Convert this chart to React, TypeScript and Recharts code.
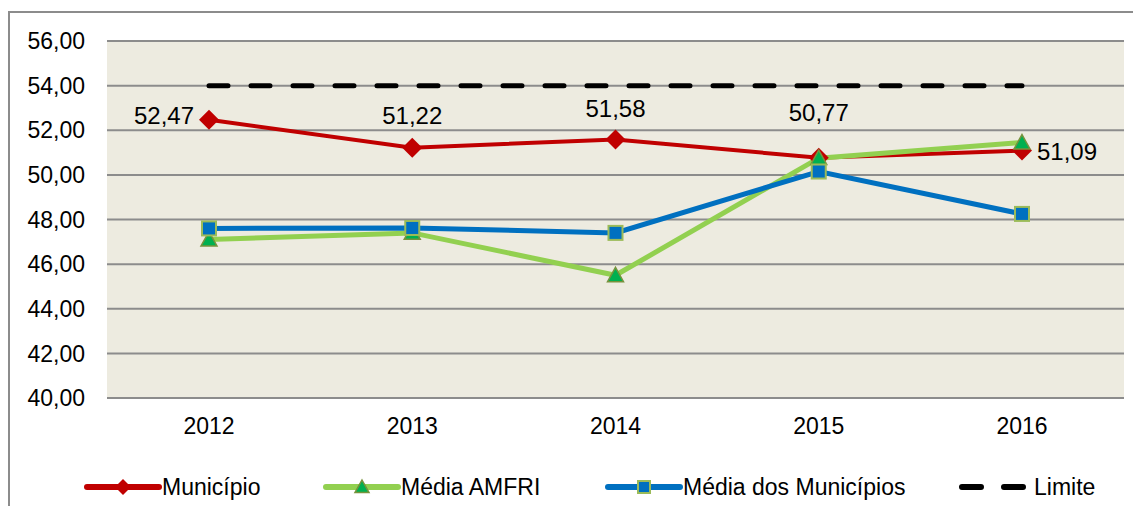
import React from "react";
import { CartesianGrid, Line, LineChart, XAxis, YAxis } from "recharts";

const years = ["2012", "2013", "2014", "2015", "2016"];
const municipio = [52.47, 51.22, 51.58, 50.77, 51.09];
const mediaAmfri = [47.1, 47.4, 45.5, 50.75, 51.45];
const mediaMunicipios = [47.6, 47.62, 47.4, 50.15, 48.25];
const limite = [54, 54, 54, 54, 54];
const yTicks = [40, 42, 44, 46, 48, 50, 52, 54, 56];

const data = years.map((year, i) => ({
  year,
  municipio: municipio[i],
  mediaAmfri: mediaAmfri[i],
  mediaMunicipios: mediaMunicipios[i],
  limite: limite[i],
}));

const FONT = '"Liberation Sans", Arial, sans-serif';
const RED = "#C00000";
const GREEN = "#92D050";
const DARK_GREEN = "#00B050";
const BLUE = "#0070C0";
const BG = "#EDEBE0";
const GRID = "#8c8c8c";

const fmt = (v: number) => v.toFixed(2).replace(".", ",");

// where each Município label sits relative to its point
const labelPlacement = [
  { anchor: "end", dx: -15, dy: 4 },
  { anchor: "middle", dx: 0, dy: -24 },
  { anchor: "middle", dx: 0, dy: -23 },
  { anchor: "middle", dx: 0, dy: -37 },
  { anchor: "start", dx: 15, dy: 9 },
];

function Diamond({ cx, cy, size = 10 }: any) {
  if (cx == null || cy == null) return null;
  return (
    <polygon
      points={`${cx},${cy - size} ${cx + size},${cy} ${cx},${cy + size} ${cx - size},${cy}`}
      fill={RED}
    />
  );
}

function Triangle({ cx, cy, size = 8 }: any) {
  if (cx == null || cy == null) return null;
  return (
    <polygon
      points={`${cx},${cy - size} ${cx + size},${cy + size * 0.8} ${cx - size},${cy + size * 0.8}`}
      fill={DARK_GREEN}
      stroke="#77933C"
      strokeWidth={1.5}
    />
  );
}

function Square({ cx, cy, size = 7 }: any) {
  if (cx == null || cy == null) return null;
  return (
    <rect x={cx - size} y={cy - size} width={size * 2} height={size * 2} fill={BLUE} stroke="#9BBB59" strokeWidth={2} />
  );
}

function MunicipioLabel(props: any) {
  const { x, y, value, index } = props;
  const p = labelPlacement[index] ?? labelPlacement[1];
  return (
    <text x={x + p.dx} y={y + p.dy} textAnchor={p.anchor} fontSize={24} fontFamily={FONT} fill="#000">
      {fmt(value)}
    </text>
  );
}

const legendItems = [
  { name: "Município", color: RED, x: 79, marker: "diamond" },
  { name: "Média AMFRI", color: GREEN, x: 318, marker: "triangle" },
  { name: "Média dos Municípios", color: BLUE, x: 600, marker: "square" },
  { name: "Limite", color: "#000", x: 951, marker: "dash" },
];

function ChartLegend() {
  const y = 479;
  return (
    <svg width={1133} height={30} style={{ position: "absolute", left: 0, top: y - 15 }}>
      {legendItems.map((item) => {
        const x1 = item.x;
        const x2 = item.x + 72;
        const mid = (x1 + x2) / 2;
        return (
          <g key={item.name}>
            {item.marker === "dash" ? (
              <line x1={x1 + 3} y1={15} x2={x2 - 3} y2={15} stroke="#000" strokeWidth={6} strokeDasharray="19 23" strokeLinecap="round" />
            ) : (
              <line x1={x1} y1={15} x2={x2} y2={15} stroke={item.color} strokeWidth={6} strokeLinecap="round" />
            )}
            {item.marker === "diamond" && <Diamond cx={mid} cy={15} size={8} />}
            {item.marker === "triangle" && <Triangle cx={mid} cy={15} size={7} />}
            {item.marker === "square" && <Square cx={mid} cy={15} size={6} />}
            <text x={x2 + 3} y={23} fontSize={23} fontFamily={FONT} fill="#000">
              {item.name}
            </text>
          </g>
        );
      })}
    </svg>
  );
}

export default function App() {
  return (
    <div style={{ position: "relative", width: 1133, height: 498, fontFamily: FONT }}>
      <style>{`body{overflow:hidden}`}</style>
      <div
        style={{
          position: "absolute",
          left: 0,
          top: 3,
          width: 1133,
          height: 495,
          borderTop: `2px solid ${GRID}`,
          borderLeft: `2px solid ${GRID}`,
          boxSizing: "border-box",
        }}
      />
      <LineChart width={1133} height={498} data={data} margin={{ top: 33, right: 17, bottom: 68, left: 0 }}>
        <CartesianGrid vertical={false} stroke={GRID} strokeWidth={2} fill={BG} />
        <XAxis
          dataKey="year"
          axisLine={false}
          tickLine={false}
          tickSize={0}
          tickMargin={20}
          height={40}
          padding={{ left: 102, right: 102 }}
          tick={{ fill: "#000", fontSize: 23, fontFamily: FONT }}
        />
        <YAxis
          domain={[40, 56]}
          ticks={yTicks}
          axisLine={false}
          tickLine={false}
          tickSize={0}
          tickMargin={22}
          width={99}
          tickFormatter={fmt}
          tick={{ fill: "#000", fontSize: 23, fontFamily: FONT }}
        />
        <Line
          dataKey="municipio"
          stroke={RED}
          strokeWidth={4}
          isAnimationActive={false}
          dot={(p: any) => <Diamond key={`d${p.index}`} cx={p.cx} cy={p.cy} />}
          activeDot={false}
          label={MunicipioLabel}
        />
        <Line
          dataKey="mediaAmfri"
          stroke={GREEN}
          strokeWidth={5}
          isAnimationActive={false}
          dot={(p: any) => <Triangle key={`t${p.index}`} cx={p.cx} cy={p.cy} />}
          activeDot={false}
        />
        <Line
          dataKey="mediaMunicipios"
          stroke={BLUE}
          strokeWidth={5}
          isAnimationActive={false}
          dot={(p: any) => <Square key={`s${p.index}`} cx={p.cx} cy={p.cy} />}
          activeDot={false}
        />
        <Line
          dataKey="limite"
          stroke="#000"
          strokeWidth={5}
          strokeDasharray="19 23"
          strokeLinecap="round"
          isAnimationActive={false}
          dot={false}
          activeDot={false}
        />
      </LineChart>
      <ChartLegend />
    </div>
  );
}
